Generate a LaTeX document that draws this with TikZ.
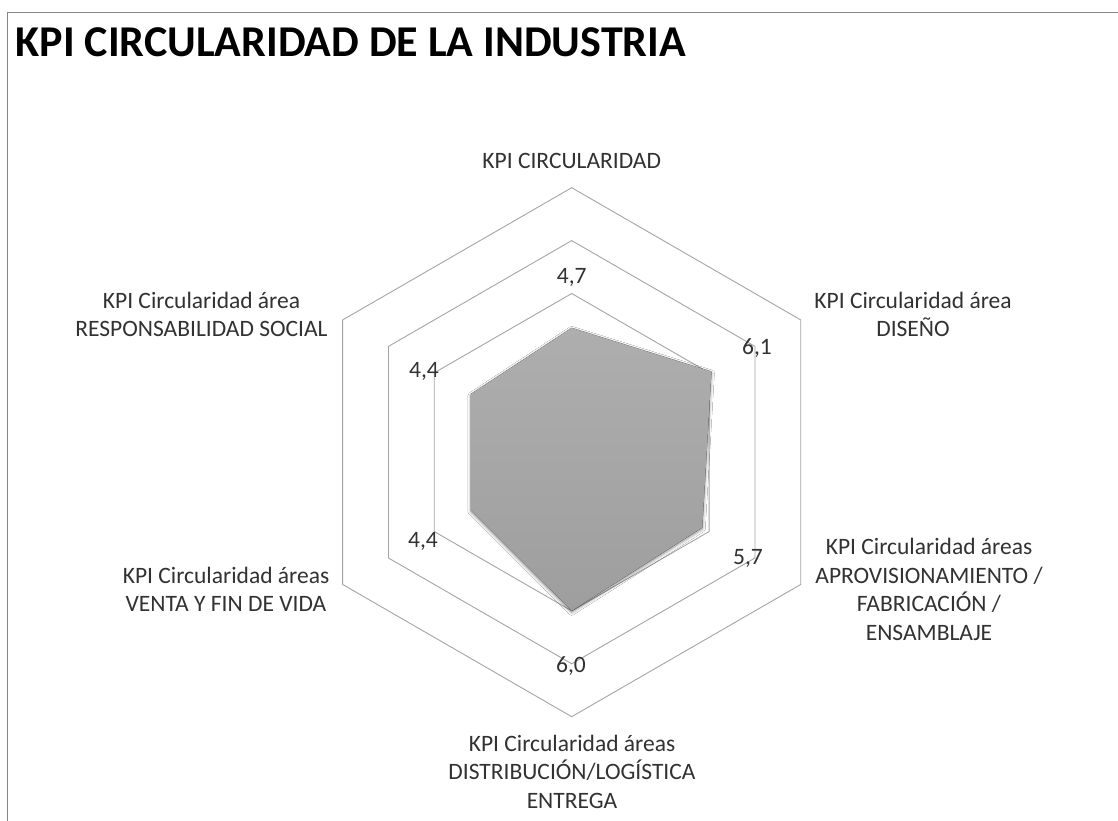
\documentclass[tikz,border=0pt]{standalone}
\usepackage{fontspec}
\setmainfont{Carlito}
\usetikzlibrary{shadows.blur}
\definecolor{framegray}{RGB}{134,134,134}
\definecolor{ringgray}{RGB}{165,165,165}
\definecolor{areatop}{RGB}{174,174,174}
\definecolor{areabottom}{RGB}{158,158,158}
\definecolor{labelgray}{RGB}{50,50,50}
\begin{document}
\begin{tikzpicture}[x=1pt,y=1pt,
  ring/.style={draw=ringgray,line width=.9pt},
  kpiarea/.style={top color=areatop,bottom color=areabottom,
    blur shadow={shadow xshift=0pt,shadow yshift=-1.5pt,shadow blur radius=3pt,shadow opacity=45}},
  axislabel/.style={inner sep=0pt,anchor=north,align=center,text=labelgray,font=\fontsize{23.5}{28.5}\selectfont},
  vallabel/.style={inner sep=0pt,anchor=base,text=labelgray,font=\fontsize{23.5}{28.5}\selectfont}]
\useasboundingbox[fill=white] (0,0) rectangle (1118,821);
\draw[framegray,line width=1.2pt] (7.3,-5) -- (7.3,808.7) -- (1125,808.7);
\node[anchor=base west,inner sep=0pt,font=\fontsize{44}{52}\selectfont\bfseries] (title) at (15.5,764.3) {KPI CIRCULARIDAD DE LA INDUSTRIA};

\begin{scope}[shift={(571.7,368.8)},x=26.45pt,y=26.45pt]
\draw[ring] (90:10) -- (30:10) -- (-30:10) -- (-90:10) -- (-150:10) -- (150:10) -- cycle;
\draw[ring] (90:8) -- (30:8) -- (-30:8) -- (-90:8) -- (-150:8) -- (150:8) -- cycle;
\draw[ring] (90:6) -- (30:6) -- (-30:6) -- (-90:6) -- (-150:6) -- (150:6) -- cycle;
\fill[kpiarea] (90:4.7) -- (30:6.1) -- (-30:5.7) -- (-90:6) -- (-150:4.4) -- (150:4.4) -- cycle;
\end{scope}

\node[vallabel] (axcirc) at (571.7,652.7) {KPI CIRCULARIDAD};
\node[axislabel] (axdis) at (913,529.5) {KPI Circularidad área\\DISEÑO};
\node[axislabel] (axapr) at (929,283) {KPI Circularidad áreas\\APROVISIONAMIENTO /\\FABRICACIÓN /\\ENSAMBLAJE};
\node[axislabel] (axdist) at (572,86.5) {KPI Circularidad áreas\\DISTRIBUCIÓN/LOGÍSTICA\\ENTREGA};
\node[axislabel] (axventa) at (226,254.5) {KPI Circularidad áreas\\VENTA Y FIN DE VIDA};
\node[axislabel] (axresp) at (201.5,529.5) {KPI Circularidad área\\RESPONSABILIDAD SOCIAL};

\node[vallabel] (val47) at (571.7,537.7) {4,7};
\node[vallabel] (val61) at (757,466) {6,1};
\node[vallabel] (val57) at (748,256.5) {5,7};
\node[vallabel] (val60) at (571,148) {6,0};
\node[vallabel] (val44a) at (424,443) {4,4};
\node[vallabel] (val44b) at (423,273) {4,4};
\end{tikzpicture}
\end{document}
